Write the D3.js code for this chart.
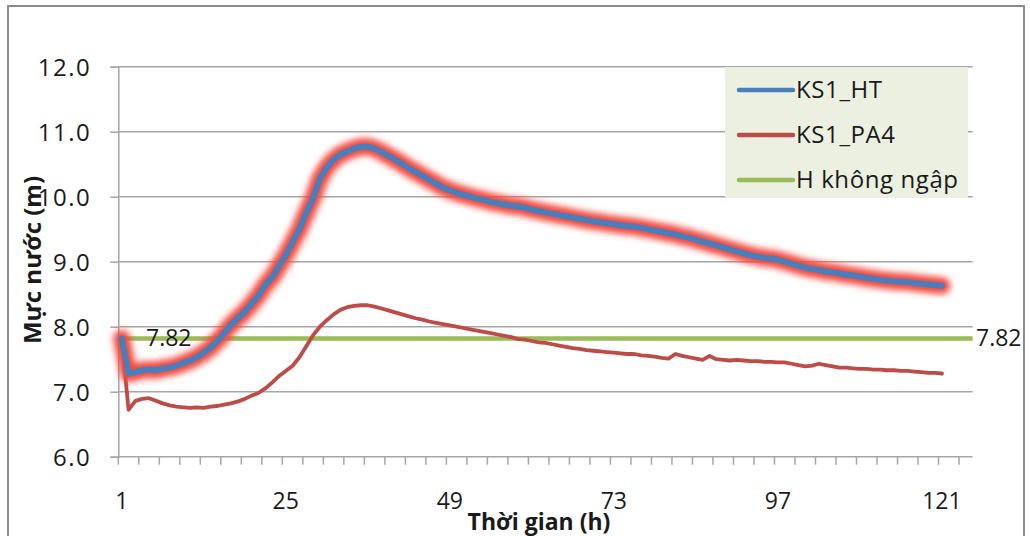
<!DOCTYPE html>
<html>
<head>
<meta charset="utf-8">
<script src="https://cdn.jsdelivr.net/npm/d3@7"></script>
<style>
  html, body { margin: 0; padding: 0; background: #fff; }
  svg { display: block; }
  text { font-family: "Open Sans", "Liberation Sans", sans-serif; fill: #1a1a1a; }
</style>
</head>
<body>
<svg id="chart" width="1030" height="536"></svg>
<script>
// Hourly water levels (m), hour 1..121
const ks1HT = [
  7.82, 7.28, 7.30, 7.33, 7.34, 7.33, 7.36, 7.37, 7.40, 7.44,
  7.48, 7.53, 7.60, 7.68, 7.78, 7.90, 8.03, 8.13, 8.23, 8.35,
  8.48, 8.64, 8.76, 8.93, 9.10, 9.30, 9.50, 9.75, 9.98, 10.28,
  10.45, 10.57, 10.65, 10.70, 10.74, 10.77, 10.77, 10.74, 10.69, 10.63,
  10.57, 10.51, 10.44, 10.38, 10.32, 10.26, 10.20, 10.14, 10.10, 10.06,
  10.03, 10.00, 9.97, 9.95, 9.92, 9.90, 9.88, 9.86, 9.85, 9.83,
  9.80, 9.78, 9.76, 9.74, 9.72, 9.70, 9.68, 9.66, 9.64, 9.62,
  9.61, 9.59, 9.58, 9.56, 9.55, 9.54, 9.52, 9.50, 9.48, 9.46,
  9.44, 9.42, 9.39, 9.37, 9.34, 9.31, 9.28, 9.25, 9.22, 9.19,
  9.16, 9.13, 9.10, 9.08, 9.06, 9.05, 9.03, 9.00, 8.97, 8.94,
  8.91, 8.89, 8.87, 8.85, 8.84, 8.82, 8.80, 8.79, 8.77, 8.75,
  8.74, 8.72, 8.71, 8.70, 8.69, 8.69, 8.67, 8.66, 8.65, 8.64,
  8.63
];
const ks1PA4 = [
  7.82, 6.72, 6.86, 6.89, 6.90, 6.86, 6.82, 6.79, 6.77, 6.76,
  6.75, 6.76, 6.75, 6.77, 6.78, 6.80, 6.82, 6.85, 6.89, 6.94,
  6.98, 7.05, 7.14, 7.24, 7.32, 7.40, 7.53, 7.70, 7.87, 8.00,
  8.10, 8.19, 8.26, 8.30, 8.32, 8.33, 8.33, 8.31, 8.28, 8.25,
  8.22, 8.19, 8.16, 8.13, 8.11, 8.08, 8.06, 8.04, 8.02, 8.00,
  7.98, 7.96, 7.94, 7.92, 7.90, 7.88, 7.86, 7.84, 7.81, 7.80,
  7.78, 7.76, 7.75, 7.73, 7.71, 7.69, 7.67, 7.66, 7.64, 7.63,
  7.62, 7.61, 7.60, 7.59, 7.58, 7.58, 7.56, 7.55, 7.54, 7.52,
  7.51, 7.58, 7.55, 7.53, 7.51, 7.49, 7.55, 7.50, 7.49, 7.48,
  7.49, 7.48, 7.47, 7.47, 7.46, 7.46, 7.45, 7.45, 7.43, 7.41,
  7.39, 7.40, 7.43, 7.41, 7.39, 7.37, 7.37, 7.36, 7.35, 7.35,
  7.34, 7.34, 7.33, 7.33, 7.32, 7.32, 7.31, 7.30, 7.29, 7.29,
  7.28
];
const hNoFlood = 7.82;
const hNoFloodLabel = "7.82";

const yTicks = [6, 7, 8, 9, 10, 11, 12];
const xTickLabels = [1, 25, 49, 73, 97, 121];
const slotCount = 125;      // category slots on the time axis
const tickEvery = 3;        // tick mark every 3 slots

const seriesNames = ["KS1_HT", "KS1_PA4", "H không ngập"];
const seriesColors = ["#4a7ebb", "#be4b48", "#9bbb59"];
const xTitle = "Thời gian (h)";
const yTitle = "Mực nước (m)";

const svg = d3.select("#chart");

// plot area
const plotLeft = 118.3, plotRight = 972.7, plotTop = 66.7, plotBottom = 456.7;

const x = d3.scaleLinear().domain([0.5, slotCount + 0.5]).range([plotLeft, plotRight]);
const y = d3.scaleLinear().domain([6, 12]).range([plotBottom, plotTop]);

// outer frame
svg.append("rect")
  .attr("x", 8).attr("y", 6).attr("width", 1016).attr("height", 545)
  .attr("fill", "none").attr("stroke", "#8c8c8c").attr("stroke-width", 2);

const defs = svg.append("defs");
defs.append("filter").attr("id", "glow")
  .attr("x", "-10%").attr("y", "-10%").attr("width", "120%").attr("height", "120%")
  .append("feGaussianBlur").attr("stdDeviation", 3.4);

// horizontal gridlines
svg.append("g").selectAll("line").data(yTicks.slice(1)).join("line")
  .attr("x1", plotLeft).attr("x2", plotRight)
  .attr("y1", d => y(d)).attr("y2", d => y(d))
  .attr("stroke", "#a6a6a6").attr("stroke-width", 1.5);

// y axis
const yAxis = svg.append("g").attr("transform", `translate(${plotLeft},0)`)
  .call(d3.axisLeft(y).tickValues(yTicks).tickFormat(d3.format(".1f")).tickSize(8).tickPadding(19));
yAxis.select(".domain").attr("stroke", "#a6a6a6").attr("stroke-width", 1.5);
yAxis.selectAll(".tick line").attr("stroke", "#a6a6a6").attr("stroke-width", 1.5);
yAxis.selectAll(".tick text").attr("font-size", 24).attr("font-family", "Open Sans")
  .attr("fill", "#1a1a1a").attr("dy", "0.35em").attr("letter-spacing", 1.5);

// x axis: tick marks on slot boundaries, labels on slot centres
const xAxisG = svg.append("g").attr("transform", `translate(0,${plotBottom})`);
xAxisG.append("line").attr("x1", plotLeft).attr("x2", plotRight)
  .attr("stroke", "#a6a6a6").attr("stroke-width", 1.5);
const boundaryTicks = d3.range(0, Math.floor(slotCount / tickEvery) + 1).map(k => 0.5 + k * tickEvery);
xAxisG.selectAll("line.tk").data(boundaryTicks).join("line").attr("class", "tk")
  .attr("x1", d => x(d)).attr("x2", d => x(d)).attr("y1", 0).attr("y2", 8)
  .attr("stroke", "#a6a6a6").attr("stroke-width", 1.5);
xAxisG.selectAll("text").data(xTickLabels).join("text")
  .attr("x", d => x(d)).attr("y", 52)
  .attr("text-anchor", "middle").attr("font-size", 23)
  .text(d => d);

const line = d3.line().x((d, i) => x(i + 1)).y(d => y(d));

// H không ngập reference line spans the full plot width
svg.append("line")
  .attr("x1", plotLeft).attr("x2", plotRight)
  .attr("y1", y(hNoFlood)).attr("y2", y(hNoFlood))
  .attr("stroke", seriesColors[2]).attr("stroke-width", 4.5);

// KS1_PA4
svg.append("path").datum(ks1PA4)
  .attr("d", line).attr("fill", "none")
  .attr("stroke", seriesColors[1]).attr("stroke-width", 3.8)
  .attr("stroke-linejoin", "round").attr("stroke-linecap", "round");

// KS1_HT with soft red glow
svg.append("path").datum(ks1HT)
  .attr("d", line).attr("fill", "none")
  .attr("stroke", "#f2483e").attr("stroke-width", 17)
  .attr("stroke-linejoin", "round").attr("stroke-linecap", "round")
  .attr("filter", "url(#glow)");
svg.append("path").datum(ks1HT)
  .attr("d", line).attr("fill", "none")
  .attr("stroke", seriesColors[0]).attr("stroke-width", 6)
  .attr("stroke-linejoin", "round").attr("stroke-linecap", "round");

// value labels for the reference line
svg.append("text").attr("x", 146).attr("y", y(hNoFlood)).attr("dy", "0.35em")
  .attr("font-size", 23).text(hNoFloodLabel);
svg.append("text").attr("x", 976).attr("y", y(hNoFlood)).attr("dy", "0.35em")
  .attr("font-size", 23).text(hNoFloodLabel);

// legend
const lg = svg.append("g").attr("transform", "translate(725,67)");
lg.append("rect").attr("width", 243).attr("height", 131).attr("fill", "#ebf0e0");
seriesNames.forEach((name, i) => {
  const cy = 23 + i * 45;
  lg.append("line").attr("x1", 14).attr("x2", 68).attr("y1", cy).attr("y2", cy)
    .attr("stroke", seriesColors[i]).attr("stroke-width", 4.5).attr("stroke-linecap", "round");
  lg.append("text").attr("x", 71).attr("y", cy).attr("dy", "0.35em")
    .attr("font-size", 24).attr("letter-spacing", 0.6).text(name);
});

// axis titles
svg.append("text").attr("x", 539).attr("y", 530).attr("text-anchor", "middle")
  .attr("font-size", 23).attr("font-weight", "bold").text(xTitle);
svg.append("text").attr("transform", "translate(41,260) rotate(-90)")
  .attr("text-anchor", "middle").attr("font-size", 24).attr("font-weight", "bold").text(yTitle);
</script>
</body>
</html>
